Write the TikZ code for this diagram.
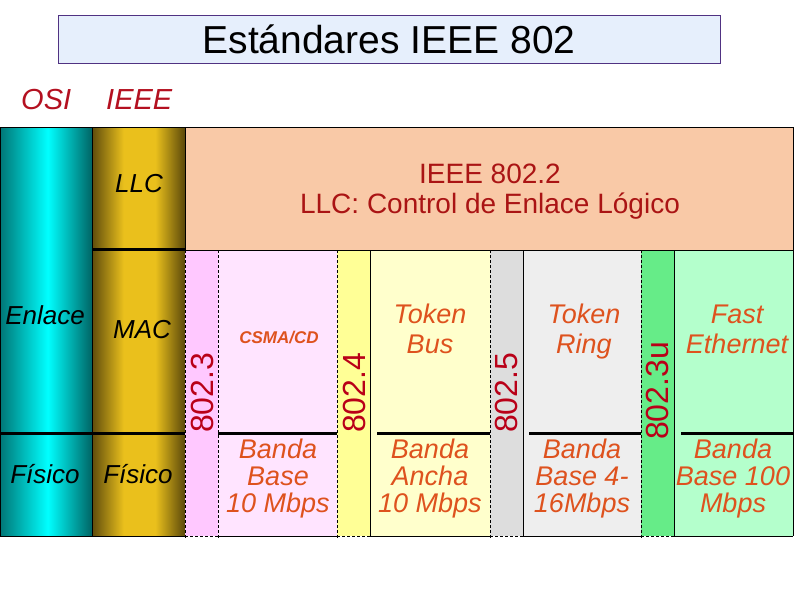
\documentclass[tikz,border=0pt]{standalone}
\usepackage{fontspec}
\setmainfont{Liberation Sans}
\definecolor{titlefill}{RGB}{230,239,252}
\definecolor{titleline}{RGB}{80,50,130}
\definecolor{osired}{RGB}{180,16,32}
\definecolor{llcfill}{RGB}{249,201,167}
\definecolor{llctext}{RGB}{170,20,20}
\definecolor{stdc}{RGB}{185,0,24}
\definecolor{contc}{RGB}{222,82,30}
\definecolor{cyanD}{RGB}{0,118,118}
\definecolor{cyanM}{RGB}{0,255,255}
\definecolor{cyanE}{RGB}{0,100,100}
\definecolor{goldD}{RGB}{95,76,12}
\definecolor{goldM}{RGB}{234,192,28}
\definecolor{goldE}{RGB}{90,72,10}
\definecolor{pinkS}{RGB}{255,200,255}
\definecolor{pinkC}{RGB}{255,228,255}
\definecolor{yelS}{RGB}{255,255,150}
\definecolor{yelC}{RGB}{255,255,204}
\definecolor{grayS}{RGB}{221,221,221}
\definecolor{grayC}{RGB}{238,238,238}
\definecolor{grnS}{RGB}{102,236,136}
\definecolor{grnC}{RGB}{180,255,204}
\pgfdeclarehorizontalshading{cyanshade}{100bp}{color(0bp)=(cyanD); color(25bp)=(cyanD); color(51bp)=(cyanM); color(75bp)=(cyanE); color(100bp)=(cyanE)}
\pgfdeclarehorizontalshading{goldshade}{100bp}{color(0bp)=(goldD); color(25bp)=(goldD); color(42bp)=(goldM); color(59bp)=(goldM); color(75bp)=(goldE); color(100bp)=(goldE)}
\begin{document}
\begin{tikzpicture}[x=1pt,y=-1pt,
  lbl/.style={font=\fontsize{26}{30}\selectfont\itshape, text=black, inner sep=0, anchor=base},
  cont/.style={font=\fontsize{27}{30}\selectfont\itshape, text=contc, align=center, inner sep=0, anchor=base},
  lowtxt/.style={font=\fontsize{27}{27}\selectfont\itshape, text=contc, align=center, inner sep=0, anchor=base},
  stdlbl/.style={font=\fontsize{32}{36}\selectfont, text=stdc, rotate=90, anchor=base west, inner sep=0},
  osilbl/.style={font=\fontsize{29}{32}\selectfont\itshape, text=osired, inner sep=0, anchor=base west},
  sepline/.style={line width=3pt},
  thin/.style={line width=0.7pt},
  dline/.style={line width=0.7pt, dash pattern=on 3pt off 2pt}
]
\useasboundingbox (0,0) rectangle (794,595);
\fill[white] (0,0) rectangle (794,595);
% title
\node[draw=titleline, fill=titlefill, line width=0.8pt, minimum width=662pt, minimum height=48pt, inner sep=0] (title) at (389,39) {};
\node[font=\fontsize{39}{44}\selectfont, anchor=base, inner sep=0] (titletext) at (389,53) {Estándares IEEE 802};
\node[osilbl] (osi) at (21,109) {OSI};
\node[osilbl] (ieee) at (106,109) {IEEE};
% fills
\shade[shading=cyanshade] (0,127) rectangle (92,536);
\shade[shading=goldshade] (92,127) rectangle (185,536);
\fill[llcfill] (185,127) rectangle (793,250);
\fill[pinkS] (185,250) rectangle (218,536);
\fill[pinkC] (218,250) rectangle (337,536);
\fill[yelS] (337,250) rectangle (370,536);
\fill[yelC] (370,250) rectangle (490,536);
\fill[grayS] (490,250) rectangle (523,536);
\fill[grayC] (523,250) rectangle (641,536);
\fill[grnS] (641,250) rectangle (674,536);
\fill[grnC] (674,250) rectangle (793,536);
% outlines
\draw[thin] (0,536) -- (0,127) -- (793,127) -- (793,536);
\draw[thin] (92,127) -- (92,536);
\draw[thin] (185,127) -- (185,250) -- (793,250);
\draw[dline] (185,250) -- (185,539);
\draw[dline] (218,250) -- (218,539);
\draw[dline] (337,250) -- (337,539);
\draw[thin] (370,250) -- (370,536);
\draw[dline] (490,250) -- (490,539);
\draw[thin] (523,250) -- (523,536);
\draw[dline] (641,250) -- (641,539);
\draw[thin] (674,250) -- (674,536);
\draw[thin] (0,536) -- (185,536);
\draw[dline] (185,536) -- (218,536);
\draw[thin] (218,536) -- (337,536);
\draw[dline] (337,536) -- (370,536);
\draw[thin] (370,536) -- (490,536);
\draw[dline] (490,536) -- (523,536);
\draw[thin] (523,536) -- (641,536);
\draw[dline] (641,536) -- (674,536);
\draw[thin] (674,536) -- (793,536);
% thick separators
\draw[sepline] (92,249) -- (185,249);
\draw[sepline] (0,433) -- (185,433);
\draw[sepline] (218,433) -- (337,433);
\draw[sepline] (377,433) -- (490,433);
\draw[sepline] (529,433) -- (641,433);
\draw[sepline] (681,433) -- (793,433);
% layer labels
\node[lbl] (llc) at (139,192) {LLC};
\node[lbl] (mac) at (142,338) {MAC};
\node[lbl] (enlace) at (45,324) {Enlace};
\node[lbl] (fisosi) at (45,483) {Físico};
\node[lbl] (fisieee) at (138,483) {Físico};
\node[font=\fontsize{28}{30}\selectfont, text=llctext, align=center, anchor=base, inner sep=0] (llcbox) at (490,213) {IEEE 802.2\\LLC: Control de Enlace Lógico};
% standards
\node[stdlbl] (s8023) at (213,433) {802.3};
\node[stdlbl] (s8024) at (365,433) {802.4};
\node[stdlbl] (s8025) at (517,433) {802.5};
\node[stdlbl] (s8023u) at (668,440) {802.3u};
% contents
\node[font=\fontsize{17}{20}\selectfont\bfseries\itshape, text=contc, anchor=base, inner sep=0] (csma) at (279,343) {CSMA/CD};
\node[cont] (tbus) at (430,353) {Token\\Bus};
\node[cont] (tring) at (584,353) {Token\\Ring};
\node[cont] (fast) at (737,353) {Fast\\Ethernet};
\node[lowtxt] (bb10) at (278,512) {Banda\\Base\\10 Mbps};
\node[lowtxt] (ba10) at (430,512) {Banda\\Ancha\\10 Mbps};
\node[lowtxt] (bb416) at (582,512) {Banda\\Base 4-\\16Mbps};
\node[lowtxt] (bb100) at (733,512) {Banda\\Base 100\\Mbps};
\end{tikzpicture}
\end{document}
